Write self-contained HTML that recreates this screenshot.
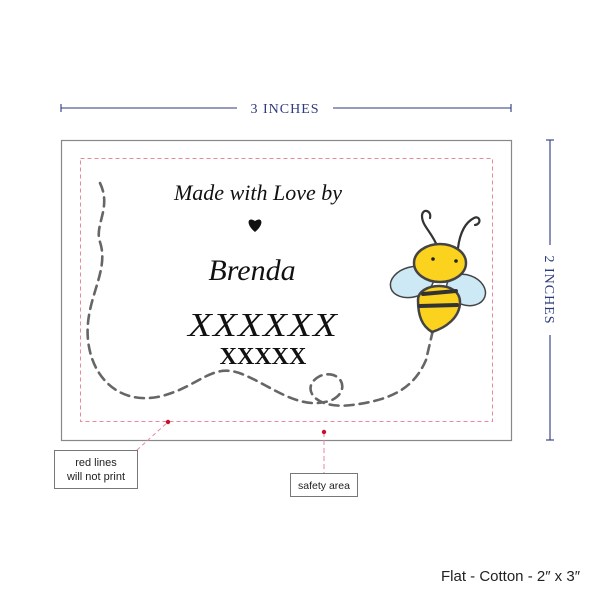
<!DOCTYPE html>
<html><head><style>
body{margin:0;background:#fff;width:600px;height:600px;overflow:hidden;font-family:"Liberation Sans",sans-serif}
</style></head><body>
<svg width="600" height="600" viewBox="0 0 600 600" xmlns="http://www.w3.org/2000/svg">
<g stroke="#2d3a7c" stroke-width="1.1" fill="none">
<line x1="61" y1="108" x2="237" y2="108"/><line x1="333" y1="108" x2="511" y2="108"/>
<line x1="61" y1="104" x2="61" y2="112"/><line x1="511" y1="104" x2="511" y2="112"/>
<line x1="550" y1="140" x2="550" y2="245"/><line x1="550" y1="335" x2="550" y2="440"/>
<line x1="546" y1="140" x2="554" y2="140"/><line x1="546" y1="440" x2="554" y2="440"/>
</g>
<text x="285" y="113" text-anchor="middle" font-family="Liberation Serif,serif" font-size="14" fill="#2d3a7c" letter-spacing="1">3 INCHES</text>
<text transform="translate(545,290) rotate(90)" text-anchor="middle" font-family="Liberation Serif,serif" font-size="14" fill="#2d3a7c" letter-spacing="1">2 INCHES</text>
<rect x="61.5" y="140.5" width="450" height="300" fill="#fff" stroke="#888" stroke-width="1.2"/>
<rect x="80.5" y="158.5" width="412" height="263" fill="none" stroke="#e88a9c" stroke-width="1" stroke-dasharray="4,3"/>
<path d="M100,183 C112,208 94,225 100,242 C110,272 84,300 88,340 C92,380 122,406 162,396 C200,386 212,362 242,374 C272,386 300,412 332,400 C352,390 340,368 320,376 C300,386 312,410 352,405 C392,400 414,388 426,360 L433,330" fill="none" stroke="#666" stroke-width="2.6" stroke-dasharray="9,6" stroke-linecap="round"/>
<text x="258" y="200" text-anchor="middle" font-family="Liberation Serif,serif" font-style="italic" font-size="22" fill="#111">Made with Love by</text>
<path d="M255,232 C245,224 248,216 255,221 C262,216 265,224 255,232Z" fill="#111"/>
<text x="252" y="280" text-anchor="middle" font-family="Liberation Serif,serif" font-style="italic" font-size="30" fill="#111">Brenda</text>
<text x="263" y="336" text-anchor="middle" font-family="Liberation Serif,serif" font-style="italic" font-size="34" fill="#111" letter-spacing="1" textLength="150" lengthAdjust="spacingAndGlyphs">XXXXXX</text>
<text x="263" y="364" text-anchor="middle" font-family="Liberation Serif,serif" font-weight="bold" font-size="24" fill="#111">XXXXX</text>
<g stroke="#333" stroke-width="2.2" fill="none" stroke-linecap="round">
<path d="M438,248 C432,232 422,226 422,216 C422,208 432,210 430,218"/>
<path d="M458,248 C460,232 466,222 474,218 C480,215 482,224 475,225"/>
</g>
<g stroke="#444" stroke-width="1.5">
<ellipse cx="412" cy="282" rx="22" ry="15" fill="#cde9f6" transform="rotate(-15 412 282)"/>
<ellipse cx="466" cy="290" rx="20" ry="15" fill="#cde9f6" transform="rotate(20 466 290)"/>
<ellipse cx="440" cy="263" rx="26" ry="19" fill="#fbd21d" stroke-width="2.5"/>
<path d="M418,300 C418,282 460,280 460,302 C460,318 445,328 432,332 C422,326 418,316 418,300Z" fill="#fbd21d" stroke-width="2.5"/>
</g>
<g stroke="#333" stroke-width="4" stroke-linecap="round">
<line x1="423" y1="294" x2="456" y2="291"/><line x1="420" y1="306" x2="457" y2="305"/>
</g>
<circle cx="433" cy="259" r="1.8" fill="#222"/><circle cx="456" cy="261" r="1.8" fill="#222"/>
<line x1="137" y1="450" x2="168" y2="422" stroke="#e88a9c" stroke-width="1" stroke-dasharray="4,3"/>
<circle cx="168" cy="422" r="2.2" fill="#c8102e"/>
<line x1="324" y1="432" x2="324" y2="473" stroke="#e88a9c" stroke-width="1" stroke-dasharray="5,3"/>
<circle cx="324" cy="432" r="2.2" fill="#c8102e"/>
<rect x="54.5" y="450.5" width="83" height="38" fill="#fff" stroke="#777"/>
<text x="96" y="466" text-anchor="middle" font-size="11" fill="#222">red lines</text>
<text x="96" y="480" text-anchor="middle" font-size="11" fill="#222">will not print</text>
<rect x="290.5" y="473.5" width="67" height="23" fill="#fff" stroke="#777"/>
<text x="324" y="489" text-anchor="middle" font-size="10.5" fill="#222">safety area</text>
<text x="580" y="581" text-anchor="end" font-size="15" fill="#222">Flat - Cotton - 2″ x 3″</text>
</svg>
</body></html>
